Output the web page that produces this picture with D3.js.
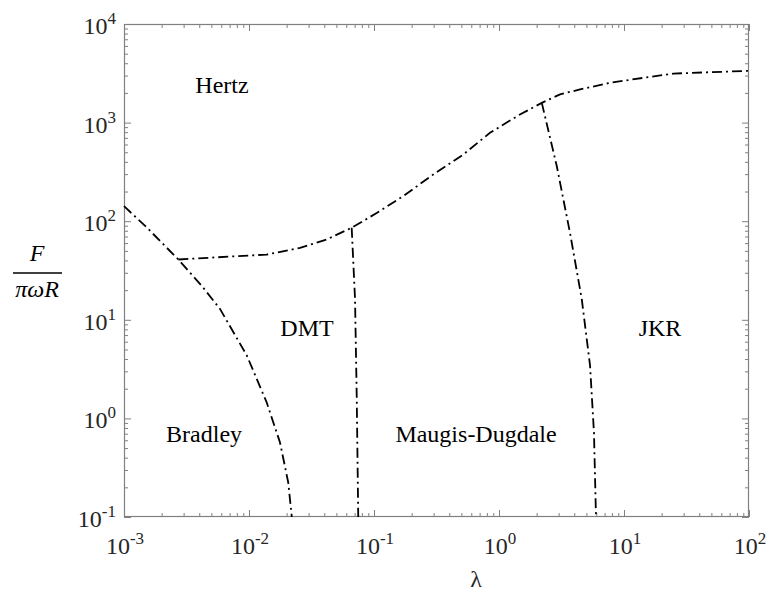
<!DOCTYPE html>
<html>
<head>
<meta charset="utf-8">
<script src="https://cdn.jsdelivr.net/npm/d3@7"></script>
<style>
  html, body { margin: 0; padding: 0; background: #fff; }
  svg { display: block; }
</style>
</head>
<body>
<svg id="chart" width="766" height="592"></svg>
<script>
// ---- data ----
const xTickExps = [-3, -2, -1, 0, 1, 2];
const yTickExps = [-1, 0, 1, 2, 3, 4];

const bradleyLambda = [0.001, 0.0015, 0.00272, 0.0042, 0.00586, 0.0096, 0.01386, 0.0177, 0.0206, 0.022];
const bradleyF      = [142, 88, 40.9, 22, 12.9, 4.35, 1.45, 0.57, 0.224, 0.1];

const hertzLambda = [0.00272, 0.01386, 0.0256, 0.0418, 0.0663, 0.105, 0.171, 0.298, 0.518, 0.847, 1.47, 2.2, 3.08, 4.45, 7.73, 14.3, 24.8, 45.8, 100];
const hertzF      = [40.9, 45.9, 53.7, 65.2, 85.8, 121, 179, 298, 475, 788, 1208, 1585, 1936, 2168, 2535, 2844, 3140, 3236, 3350];

const dmtLambda = [0.0663, 0.0705, 0.0728, 0.0748];
const dmtF      = [85.8, 16.3, 1.57, 0.1];

const jkrLambda = [2.2, 2.9, 3.7, 4.59, 5.35, 5.75, 5.97];
const jkrF      = [1585, 361, 76, 16.3, 3.44, 0.72, 0.1];

const regionNames  = ["Hertz", "DMT", "JKR", "Bradley", "Maugis-Dugdale"];
const regionLambda = [0.00608, 0.0291, 19.4, 0.00437, 0.655];
const regionF      = [1995, 6.85, 6.85, 0.577, 0.577];

// ---- layout ----
const W = 766, H = 592;
const m = { left: 124, right: W - 749, top: 24, bottom: H - 517 };
const svg = d3.select("#chart");
const x = d3.scaleLog().domain([1e-3, 1e2]).range([m.left, W - m.right]);
const y = d3.scaleLog().domain([1e-1, 1e4]).range([H - m.bottom, m.top]);

const axisColor = "#808080";
const textColor = "#262626";
const serif = "'Liberation Serif', 'Times New Roman', serif";

// minor/major tick values
const majorX = xTickExps.map(e => Math.pow(10, e));
const majorY = yTickExps.map(e => Math.pow(10, e));
function minors(exps) {
  const out = [];
  for (let i = 0; i < exps.length - 1; i++)
    for (let k = 2; k <= 9; k++) out.push(k * Math.pow(10, exps[i]));
  return out;
}
const minorX = minors(xTickExps), minorY = minors(yTickExps);

// axes (ticks drawn inward)
const gAx = svg.append("g");
function drawAxis(axis, transform) {
  const g = gAx.append("g").attr("transform", transform).call(axis);
  g.selectAll("text").remove();
  g.select(".domain").remove();
  g.selectAll("line").attr("stroke", axisColor).attr("stroke-width", 1);
  return g;
}
// bottom
drawAxis(d3.axisTop(x).tickValues(majorX).tickSize(7).tickFormat(""), `translate(0,${H - m.bottom})`);
drawAxis(d3.axisTop(x).tickValues(minorX).tickSize(4).tickFormat(""), `translate(0,${H - m.bottom})`);
// top
drawAxis(d3.axisBottom(x).tickValues(majorX).tickSize(7).tickFormat(""), `translate(0,${m.top})`);
drawAxis(d3.axisBottom(x).tickValues(minorX).tickSize(4).tickFormat(""), `translate(0,${m.top})`);
// left
drawAxis(d3.axisRight(y).tickValues(majorY).tickSize(7).tickFormat(""), `translate(${m.left},0)`);
drawAxis(d3.axisRight(y).tickValues(minorY).tickSize(4).tickFormat(""), `translate(${m.left},0)`);
// right
drawAxis(d3.axisLeft(y).tickValues(majorY).tickSize(7).tickFormat(""), `translate(${W - m.right},0)`);
drawAxis(d3.axisLeft(y).tickValues(minorY).tickSize(4).tickFormat(""), `translate(${W - m.right},0)`);

// box
gAx.append("rect")
  .attr("x", m.left + 0.5).attr("y", m.top + 0.5)
  .attr("width", W - m.left - m.right - 1).attr("height", H - m.top - m.bottom - 1)
  .attr("fill", "none").attr("stroke", axisColor).attr("stroke-width", 1.2);

// tick labels
const xl = svg.append("g").attr("font-family", serif).attr("fill", textColor);
xTickExps.forEach((e, i) => {
  const t = xl.append("text").attr("x", x(majorX[i]) + 1).attr("y", 554)
    .attr("text-anchor", "middle").attr("font-size", 24);
  t.append("tspan").text("10");
  t.append("tspan").attr("dy", -10).attr("font-size", 17).text(String(e));
});
const yl = svg.append("g").attr("font-family", serif).attr("fill", textColor);
yTickExps.forEach((e, i) => {
  const t = yl.append("text").attr("x", 116).attr("y", y(majorY[i]) + 10)
    .attr("text-anchor", "end").attr("font-size", 24);
  t.append("tspan").text("10");
  t.append("tspan").attr("dy", -10).attr("font-size", 17).text(String(e));
});

// axis titles
svg.append("text").attr("x", 476).attr("y", 587).attr("text-anchor", "middle")
  .attr("font-family", serif).attr("font-size", 24).attr("fill", textColor).text("λ");

const yt = svg.append("g").attr("font-family", serif).attr("font-style", "italic").attr("fill", "#000");
yt.append("text").attr("x", 37).attr("y", 261).attr("text-anchor", "middle").attr("font-size", 24).text("F");
yt.append("line").attr("x1", 13).attr("x2", 62).attr("y1", 273).attr("y2", 273)
  .attr("stroke", "#000").attr("stroke-width", 1.3);
yt.append("text").attr("x", 37).attr("y", 297).attr("text-anchor", "middle").attr("font-size", 24).text("πωR");

// boundary curves
const line = d3.line().x(d => x(d[0])).y(d => y(d[1]));
const curves = [
  d3.zip(bradleyLambda, bradleyF),
  d3.zip(hertzLambda, hertzF),
  d3.zip(dmtLambda, dmtF),
  d3.zip(jkrLambda, jkrF)
];
svg.append("g").selectAll("path").data(curves).join("path")
  .attr("d", line)
  .attr("fill", "none").attr("stroke", "#000").attr("stroke-width", 1.8)
  .attr("stroke-dasharray", "10,4,2,4");

// region labels
svg.append("g").selectAll("text").data(regionNames).join("text")
  .attr("x", (d, i) => x(regionLambda[i]))
  .attr("y", (d, i) => y(regionF[i]))
  .attr("text-anchor", "middle")
  .attr("font-family", serif).attr("font-size", 24).attr("fill", "#000")
  .text(d => d);
</script>
</body>
</html>
